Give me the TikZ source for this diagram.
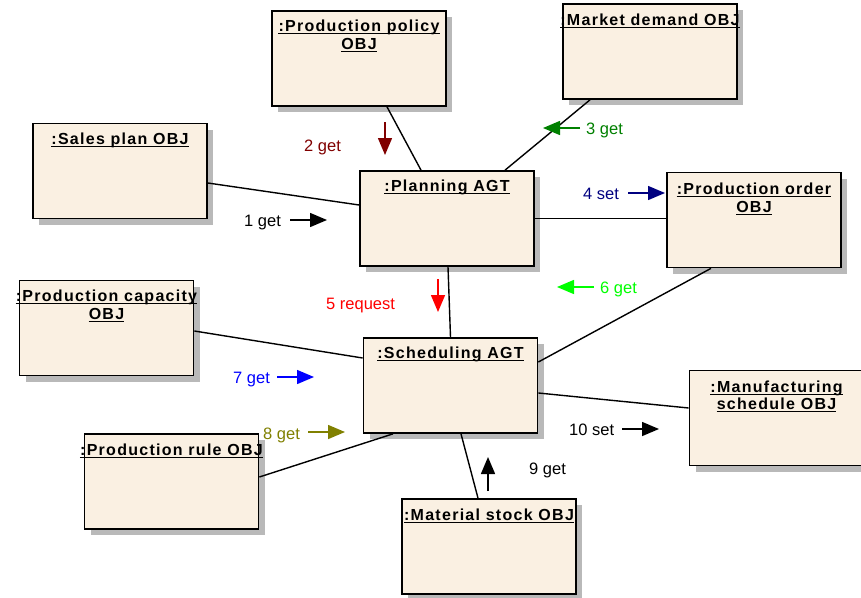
\documentclass[tikz,border=0pt]{standalone}
\usepackage{fontspec}
\setmainfont{Liberation Sans}
\newfontfamily\titlefont{Liberation Sans}[LetterSpace=8]
\usetikzlibrary{shadows,arrows.meta}

\definecolor{boxfill}{RGB}{250,240,226}
\definecolor{shadowgray}{RGB}{185,185,185}
\definecolor{msgdarkred}{RGB}{128,0,0}
\definecolor{msggreen}{RGB}{0,128,0}
\definecolor{msgnavy}{RGB}{0,0,128}
\definecolor{msgred}{RGB}{255,0,0}
\definecolor{msglime}{RGB}{0,255,0}
\definecolor{msgblue}{RGB}{0,0,255}
\definecolor{msgolive}{RGB}{128,128,0}

\tikzset{
  objbox/.style={draw=black, line width=1.7pt, fill=boxfill,
    minimum width=174pt, minimum height=95pt, inner sep=0pt,
    drop shadow={shadow xshift=6pt, shadow yshift=-6pt, fill=shadowgray, opacity=1}},
  ttl/.style={font=\titlefont\bfseries\fontsize{16}{19}\selectfont, inner sep=0pt, anchor=base},
  ul/.style={line width=1.4pt},
  link/.style={line width=1.4pt},
  msg/.style={line width=1.5pt, -{Triangle[length=17pt,width=14pt]}},
  msgtext/.style={font=\fontsize{16.5}{19}\selectfont, inner sep=0pt, anchor=base west},
}

% underlined object title line
\newcommand\objtitle[3]{%
  \node[ttl] (#1) at (#2) {#3};
  \draw[ul] ([yshift=-2.5pt]#1.base west) -- ([yshift=-2.5pt]#1.base east);}

\begin{document}
\begin{tikzpicture}[x=1pt,y=-1pt]
\useasboundingbox (0,0) rectangle (861,597);

% objects and agents
\node[objbox] (pp)    at (359,58.5)  {};
\node[objbox] (md)    at (650,51.5)  {};
\node[objbox] (sp)    at (120,171)   {};
\node[objbox] (plan)  at (447,218.5) {};
\node[objbox] (po)    at (754,220)   {};
\node[objbox] (pc)    at (106.5,328) {};
\node[objbox] (sched) at (450.5,385.5) {};
\node[objbox] (ms)    at (776.5,418) {};
\node[objbox] (pr)    at (171.5,481.5) {};
\node[objbox] (mat)   at (489,546.5) {};

% titles
\objtitle{ppA}{359,31}{:Production policy~}
\objtitle{ppB}{359,49}{OBJ}
\objtitle{mdA}{650,25}{:Market demand OBJ}
\objtitle{spA}{120,144}{:Sales plan OBJ}
\objtitle{planA}{447,191}{:Planning AGT}
\objtitle{poA}{754,194}{:Production order~}
\objtitle{poB}{754,212}{OBJ}
\objtitle{pcA}{106.5,301}{:Production capacity~}
\objtitle{pcB}{106.5,319}{OBJ}
\objtitle{schedA}{450.5,358}{:Scheduling AGT}
\objtitle{msA}{776.5,392}{:Manufacturing~}
\objtitle{msB}{776.5,409}{schedule OBJ}
\objtitle{prA}{171.5,455}{:Production rule OBJ}
\objtitle{matA}{489,520}{:Material stock OBJ}

% links
\draw[link] ([xshift=28pt]pp.south) -- ([xshift=-26pt]plan.north);
\draw[link] ([xshift=-60pt]md.south) -- ([xshift=58pt]plan.north);
\draw[link] ([yshift=-12pt]sp.east) -- ([yshift=13.5pt]plan.west);
\draw[link] (plan.east) -- (plan.east -| po.west);
\draw[link] ([xshift=1pt]plan.south) -- (sched.north);
\draw[link] ([xshift=-43pt]po.south) -- ([yshift=23.5pt]sched.east);
\draw[link] ([yshift=-3pt]pc.east) -- ([yshift=27.5pt]sched.west);
\draw[link] ([yshift=-7.5pt]sched.east) -- ([yshift=10pt]ms.west);
\draw[link] ([yshift=4.5pt]pr.east) -- ([xshift=-57.5pt]sched.south);
\draw[link] ([xshift=10.5pt]sched.south) -- ([xshift=-11pt]mat.north);

% messages
\coordinate (m1s) at (290,220); \coordinate (m1e) at (327,220);
\draw[msg, black] (m1s) -- (m1e);
\node[msgtext, black] (t1) at (244,226) {1 get};

\coordinate (m2s) at (385,122); \coordinate (m2e) at (385,155);
\draw[msg, msgdarkred] (m2s) -- (m2e);
\node[msgtext, msgdarkred] (t2) at (304,151) {2 get};

\coordinate (m3s) at (580,128); \coordinate (m3e) at (543,128);
\draw[msg, msggreen] (m3s) -- (m3e);
\node[msgtext, msggreen] (t3) at (586,134) {3 get};

\coordinate (m4s) at (628,193); \coordinate (m4e) at (665,193);
\draw[msg, msgnavy] (m4s) -- (m4e);
\node[msgtext, msgnavy] (t4) at (583,199) {4 set};

\coordinate (m5s) at (438,279); \coordinate (m5e) at (438,312);
\draw[msg, msgred] (m5s) -- (m5e);
\node[msgtext, msgred] (t5) at (326,309) {5 request};

\coordinate (m6s) at (594,287); \coordinate (m6e) at (557,287);
\draw[msg, msglime] (m6s) -- (m6e);
\node[msgtext, msglime] (t6) at (600,293) {6 get};

\coordinate (m7s) at (277,377); \coordinate (m7e) at (314,377);
\draw[msg, msgblue] (m7s) -- (m7e);
\node[msgtext, msgblue] (t7) at (233,383) {7 get};

\coordinate (m8s) at (308,432); \coordinate (m8e) at (345,432);
\draw[msg, msgolive] (m8s) -- (m8e);
\node[msgtext, msgolive] (t8) at (263,439) {8 get};

\coordinate (m9s) at (488,491); \coordinate (m9e) at (488,457);
\draw[msg, black] (m9s) -- (m9e);
\node[msgtext, black] (t9) at (529,474) {9 get};

\coordinate (m10s) at (622,429); \coordinate (m10e) at (659,429);
\draw[msg, black] (m10s) -- (m10e);
\node[msgtext, black] (t10) at (569,435) {10 set};
\end{tikzpicture}
\end{document}
